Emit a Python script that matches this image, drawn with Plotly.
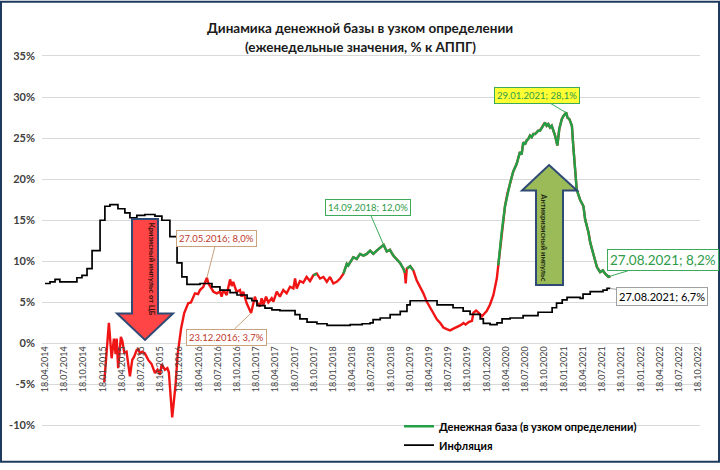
import plotly.graph_objects as go

# ---------------- data ----------------
money_dates = [
    "2015-01-25", "2015-02-16", "2015-03-01", "2015-03-12", "2015-03-20", "2015-03-25", "2015-04-01", "2015-04-14",
    "2015-04-21", "2015-04-30", "2015-05-11", "2015-05-27", "2015-06-07", "2015-06-16", "2015-06-28", "2015-07-05",
    "2015-07-14", "2015-07-24", "2015-08-06", "2015-08-22", "2015-09-07", "2015-09-23", "2015-10-05", "2015-10-17",
    "2015-10-25", "2015-11-09", "2015-11-21", "2015-11-28", "2015-12-14", "2015-12-30",
    "2016-01-09", "2016-01-25", "2016-02-09", "2016-02-28", "2016-03-12", "2016-03-31", "2016-04-15", "2016-04-24",
    "2016-05-10", "2016-05-27", "2016-06-03", "2016-06-19", "2016-06-27", "2016-07-13", "2016-07-28", "2016-08-05",
    "2016-08-13", "2016-08-29", "2016-09-14", "2016-09-22", "2016-09-29", "2016-10-07", "2016-10-15", "2016-10-31",
    "2016-11-08", "2016-11-16", "2016-11-24", "2016-12-02", "2016-12-23",
    "2017-01-02", "2017-01-10", "2017-01-18", "2017-02-03", "2017-02-11", "2017-02-19", "2017-03-04", "2017-03-15",
    "2017-03-31", "2017-04-08", "2017-04-24", "2017-05-09", "2017-05-25", "2017-06-10", "2017-06-26", "2017-07-12",
    "2017-07-20", "2017-07-28", "2017-08-12", "2017-08-28", "2017-09-13", "2017-09-29", "2017-10-15", "2017-10-31",
    "2017-11-16", "2017-12-02", "2017-12-18",
    "2018-01-02", "2018-01-18", "2018-02-03", "2018-02-19", "2018-03-07", "2018-03-15", "2018-03-23", "2018-03-30",
    "2018-04-11", "2018-04-23", "2018-05-09", "2018-05-25", "2018-06-10", "2018-06-26", "2018-07-12", "2018-07-27",
    "2018-08-12", "2018-08-28", "2018-09-14", "2018-09-29", "2018-10-14", "2018-10-30", "2018-11-15", "2018-12-01",
    "2018-12-17", "2018-12-24", "2018-12-28",
    "2019-01-02", "2019-01-18", "2019-02-02", "2019-02-18", "2019-03-06", "2019-03-22", "2019-04-07", "2019-04-23",
    "2019-05-09", "2019-05-25", "2019-06-10", "2019-06-25", "2019-07-11", "2019-07-27", "2019-08-12", "2019-08-28",
    "2019-09-13", "2019-09-29", "2019-10-09", "2019-10-23", "2019-11-08", "2019-11-15", "2019-11-28", "2019-12-09",
    "2019-12-25",
    "2020-01-01", "2020-01-17", "2020-02-02", "2020-02-18", "2020-03-05", "2020-03-12", "2020-03-20", "2020-03-28",
    "2020-04-13", "2020-04-24", "2020-05-07", "2020-05-22", "2020-06-08", "2020-06-23", "2020-07-01", "2020-07-09",
    "2020-07-17", "2020-07-25", "2020-08-02", "2020-08-10", "2020-08-18", "2020-08-26", "2020-09-03", "2020-09-18",
    "2020-09-26", "2020-10-12", "2020-10-20", "2020-10-28", "2020-11-05", "2020-11-13", "2020-11-21", "2020-11-29",
    "2020-12-07", "2020-12-18", "2020-12-27",
    "2021-01-08", "2021-01-16", "2021-01-29", "2021-02-04", "2021-02-13", "2021-02-25", "2021-03-04", "2021-03-12",
    "2021-03-20", "2021-04-05", "2021-04-21", "2021-04-29", "2021-05-15", "2021-05-23", "2021-06-08", "2021-06-24",
    "2021-07-09", "2021-07-22", "2021-08-02", "2021-08-18", "2021-08-27",
]
money_vals = [
    -4.7, 2.5, -1.8, 0.6, -1.3, 0.6, -3.0, 0.8,
    0.3, -1.1, -1.0, -4.0, -2.0, -1.6, -0.8, -0.7,
    -1.2, -1.0, -1.2, -2.0, -2.5, -3.6, -3.2, -3.8,
    -2.5, -3.2, -3.0, -3.5, -9.0, -5.0,
    -1.3, 1.8, 3.7, 4.9, 5.0, 6.1, 6.0, 6.5,
    6.9, 8.0, 7.3, 6.5, 6.3, 6.1, 6.3, 5.7,
    6.5, 5.9, 7.8, 7.0, 7.5, 6.9, 6.3, 6.5,
    5.7, 6.3, 5.5, 4.9, 3.7,
    4.9, 5.7, 5.1, 4.5, 5.5, 4.7, 5.7, 5.0,
    5.5, 5.1, 6.3, 5.7, 6.5, 6.1, 6.9, 6.7,
    7.9, 6.7, 7.6, 7.4, 8.1, 7.6, 8.3, 8.5,
    7.9, 8.1, 7.5,
    8.1, 7.3, 7.5, 7.9, 8.5, 9.1, 9.7, 9.5,
    10.1, 10.5, 10.3, 10.9, 10.7, 10.9, 11.3, 10.9,
    11.3, 11.7, 12.0, 11.2, 11.4, 10.7, 10.3, 9.8,
    9.1, 8.6, 7.3,
    9.1, 9.4, 8.9, 7.7, 6.9, 6.1, 5.1, 4.35,
    3.75, 2.95, 2.5, 1.95, 1.75, 1.6, 1.8, 2.0,
    2.2, 2.5, 2.3, 2.6, 2.75, 3.75, 4.0, 3.75,
    3.3,
    3.5, 3.95, 4.75, 5.9, 7.9, 9.5, 11.9, 13.5,
    16.7, 18.2, 19.5, 20.9, 21.9, 23.3, 23.0, 24.5,
    24.2, 24.7, 24.9, 25.3, 25.1, 25.5, 25.5, 25.9,
    25.9, 26.5, 26.9, 26.5, 26.7, 26.3, 26.5, 25.9,
    25.3, 24.1, 26.1,
    27.3, 27.7, 28.1, 27.5, 27.3, 26.5, 23.9, 21.1,
    18.7, 17.5, 16.7, 15.1, 13.5, 12.3, 10.7, 9.3,
    8.7, 8.9, 8.5, 8.1, 8.2,
]

inf_dates = [
    "2014-04-18", "2014-05-12", "2014-06-05", "2014-06-28", "2014-09-17", "2014-10-11", "2014-11-04", "2014-11-28",
    "2015-01-05", "2015-01-28", "2015-02-21", "2015-03-31", "2015-05-03", "2015-05-27", "2015-06-29", "2015-08-06",
    "2015-09-23", "2015-10-26", "2015-12-03",
    "2016-01-06", "2016-01-29", "2016-02-22", "2016-04-24", "2016-06-20", "2016-07-28", "2016-09-14", "2016-10-17",
    "2016-12-04", "2016-12-27",
    "2017-01-20", "2017-02-27", "2017-04-01", "2017-05-09", "2017-07-20", "2017-08-12", "2017-09-15", "2017-11-01",
    "2017-12-19",
    "2018-02-05", "2018-04-08", "2018-06-04", "2018-07-12", "2018-07-26", "2018-08-29", "2018-10-15", "2018-12-02",
    "2019-01-03", "2019-01-18", "2019-05-26", "2019-08-10", "2019-09-27", "2019-10-30", "2019-12-17",
    "2020-01-01", "2020-02-02", "2020-03-06", "2020-03-30", "2020-05-07", "2020-07-08", "2020-09-17", "2020-11-23",
    "2020-12-14",
    "2021-01-10", "2021-02-02", "2021-04-05", "2021-04-19", "2021-05-23", "2021-07-23", "2021-08-11", "2021-08-27",
]
inf_vals = [
    7.3, 7.5, 7.8, 7.5, 8.0, 8.3, 9.1, 11.3,
    15.0, 16.7, 16.9, 16.4, 15.9, 15.3, 15.6, 15.7,
    15.5, 15.0, 13.0,
    9.8, 8.1, 7.2, 7.3, 6.9, 6.5, 6.2, 5.9,
    5.5, 5.2,
    4.6, 4.3, 4.1, 4.0, 3.5, 3.0, 2.6, 2.4,
    2.2,
    2.2, 2.3, 2.4, 2.5, 2.9, 3.1, 3.5, 3.9,
    4.7, 5.2, 4.7, 4.35, 3.95, 3.55, 3.0,
    2.45, 2.3, 2.5, 3.0, 3.1, 3.4, 3.8, 4.35,
    4.9,
    5.3, 5.6, 5.5, 6.0, 6.3, 6.5, 6.7, 6.7,
]

x_tickvals = [
    "2014-04-18", "2014-07-18", "2014-10-18", "2015-01-18", "2015-04-18", "2015-07-18", "2015-10-18",
    "2016-01-18", "2016-04-18", "2016-07-18", "2016-10-18", "2017-01-18", "2017-04-18", "2017-07-18",
    "2017-10-18", "2018-01-18", "2018-04-18", "2018-07-18", "2018-10-18", "2019-01-18", "2019-04-18",
    "2019-07-18", "2019-10-18", "2020-01-18", "2020-04-18", "2020-07-18", "2020-10-18", "2021-01-18",
    "2021-04-18", "2021-07-18", "2021-10-18", "2022-01-18", "2022-04-18", "2022-07-18", "2022-10-18",
]
x_ticktext = [
    "18.04.2014", "18.07.2014", "18.10.2014", "18.01.2015", "18.04.2015", "18.07.2015", "18.10.2015",
    "18.01.2016", "18.04.2016", "18.07.2016", "18.10.2016", "18.01.2017", "18.04.2017", "18.07.2017",
    "18.10.2017", "18.01.2018", "18.04.2018", "18.07.2018", "18.10.2018", "18.01.2019", "18.04.2019",
    "18.07.2019", "18.10.2019", "18.01.2020", "18.04.2020", "18.07.2020", "18.10.2020", "18.01.2021",
    "18.04.2021", "18.07.2021", "18.10.2021", "18.01.2022", "18.04.2022", "18.07.2022", "18.10.2022",
]
y_tickvals = [-10, -5, 0, 5, 10, 15, 20, 25, 30, 35]
y_ticktext = ["-10%", "-5%", "0%", "5%", "10%", "15%", "20%", "25%", "30%", "35%"]

title_line1 = "Динамика денежной базы в узком определении"
title_line2 = "(еженедельные значения, % к АППГ)"
money_name = "Денежная база (в узком определении)"
inf_name = "Инфляция"
green_threshold = 8.0

# ---------------- layout helpers ----------------
W, H = 720, 470
L, R, T, B = 42, 20, 50, 10
X_RANGE = ["2014-04-04", "2022-10-27"]
Y_RANGE = [-13.33, 35.72]
FONT = "Lato, Roboto, 'DejaVu Sans', sans-serif"


def px(x):
    return (x - L) / (W - L - R)


def py(y):
    return (H - B - y) / (H - T - B)


zero_pos = (0 - Y_RANGE[0]) / (Y_RANGE[1] - Y_RANGE[0])

green_vals = [v if v >= green_threshold else None for v in money_vals]

RED = "#F01414"
GREEN = "#23A047"

fig = go.Figure()
fig.add_trace(go.Scatter(x=money_dates, y=money_vals, mode="lines",
                         line=dict(color=RED, width=2.4), showlegend=False,
                         hoverinfo="skip"))
fig.add_trace(go.Scatter(x=money_dates, y=green_vals, mode="lines",
                         line=dict(color=GREEN, width=2.4), name=money_name,
                         connectgaps=False))
fig.add_trace(go.Scatter(x=inf_dates, y=inf_vals, mode="lines",
                         line=dict(color="black", width=1.7, shape="hv"), name=inf_name))


# arrows (decorative shapes)
def path(points):
    return "M " + " L ".join(f"{px(a):.5f},{py(b):.5f}" for a, b in points) + " Z"


red_arrow = [(132, 222), (158, 222), (158, 318), (173, 318), (145, 345), (117, 318), (132, 318)]
green_arrow = [(549, 167), (577, 193), (563, 193), (563, 289), (536, 289), (536, 193), (522, 193)]

shapes = [
    dict(type="path", xref="paper", yref="paper", path=path(red_arrow),
         fillcolor="#FF4545", line=dict(color="#2F4A75", width=2), layer="above"),
    dict(type="path", xref="paper", yref="paper", path=path(green_arrow),
         fillcolor="#9BBB59", line=dict(color="#2F4A75", width=2), layer="above"),
    dict(type="rect", xref="paper", yref="paper", x0=px(1), x1=px(719), y0=py(469), y1=py(1),
         line=dict(color="#1F3A5F", width=2), fillcolor="rgba(0,0,0,0)", layer="above"),
]

ann = []
ann.append(dict(xref="paper", yref="paper", x=px(360), y=py(17), text=f"<b>{title_line1}</b>",
                showarrow=False, font=dict(size=13.5, color="#1a1a1a", family=FONT)))
ann.append(dict(xref="paper", yref="paper", x=px(360), y=py(37), text=f"<b>{title_line2}</b>",
                showarrow=False, font=dict(size=13.5, color="#1a1a1a", family=FONT)))
ann.append(dict(xref="paper", yref="paper", x=px(145), y=py(273), text="<b>Кризисный импульс от ЦБ</b>",
                textangle=90, showarrow=False, font=dict(size=7.5, color="#3a1010", family=FONT)))
ann.append(dict(xref="paper", yref="paper", x=px(550), y=py(240), text="<b>Антикризисный импульс</b>",
                textangle=90, showarrow=False, font=dict(size=7.5, color="#1f2a10", family=FONT)))


def callout(x, y, text, ax, ay, color, border, bg="white", size=9.5):
    return dict(x=x, y=y, xref="x", yref="y", text=text, showarrow=True, arrowhead=0,
                arrowwidth=1, arrowcolor=border, ax=ax, ay=ay, bgcolor=bg, bordercolor=border,
                borderwidth=1, borderpad=2, font=dict(size=size, color=color, family=FONT))


TAN = "#C9A27E"
DRED = "#C0392B"
ann.append(callout("2016-05-27", 8.0, "27.05.2016; 8,0%", 10, -39, DRED, TAN))
ann.append(callout("2016-12-23", 3.7, "23.12.2016; 3,7%", -25, 24, DRED, TAN))
ann.append(callout("2018-09-14", 12.0, "14.09.2018; 12,0%", -16, -37, "#2E9B48", "#3CAA5A"))
ann.append(callout("2021-01-29", 28.1, "29.01.2021; 28,1%", -29, -17, "#2E9B48", "#3CAA5A", bg="#FFFF33"))
ann.append(callout("2021-08-27", 8.2, "27.08.2021; 8,2%", 53, -16, "#2E9B48", "#3CAA5A", size=13.5))
ann.append(callout("2021-08-27", 6.7, "27.08.2021; 6,7%", 52, 8, "black", "#A0A0A0", size=11))

fig.update_layout(
    width=W, height=H,
    margin=dict(l=L, r=R, t=T, b=B),
    paper_bgcolor="white", plot_bgcolor="white",
    font=dict(family=FONT, color="#404040"),
    showlegend=True,
    legend=dict(x=px(399), y=py(418), xanchor="left", yanchor="top", bgcolor="rgba(255,255,255,0)",
                font=dict(size=11, color="black", family=FONT, weight="bold"), itemwidth=30,
                tracegroupgap=0),
    xaxis=dict(type="date", range=X_RANGE, tickvals=x_tickvals, ticktext=x_ticktext, tickangle=-90,
               tickfont=dict(size=9, color="#404040"), showgrid=False, zeroline=False,
               showline=False, ticks="", anchor="free", position=zero_pos),
    yaxis=dict(range=Y_RANGE, tickvals=y_tickvals, ticktext=y_ticktext, showgrid=True,
               gridcolor="#D9D9D9", gridwidth=1, zeroline=False, showline=False, ticks="",
               tickfont=dict(size=11, color="#404040", weight="bold"), ticklabelstandoff=6),
    shapes=shapes,
    annotations=ann,
    hovermode=False,
)

fig.write_html("out.html")
